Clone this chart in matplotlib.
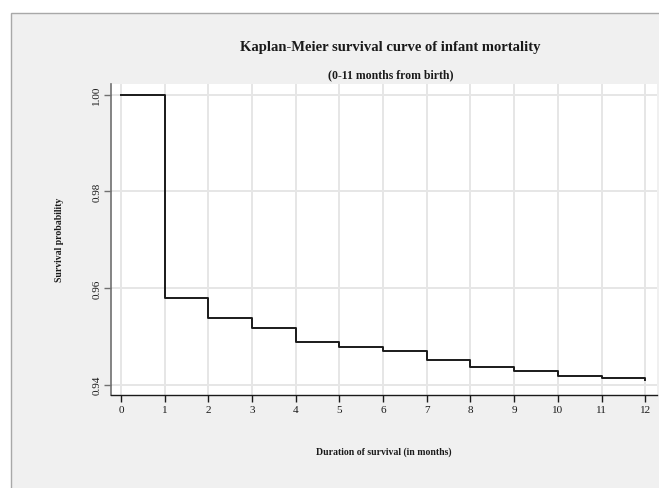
import matplotlib
matplotlib.use("Agg")
import matplotlib.pyplot as plt
from matplotlib.patches import Rectangle

# Kaplan-Meier estimate, month 0..12
months = [0, 1, 2, 3, 4, 5, 6, 7, 8, 9, 10, 11, 12]
survival = [1.000, 0.9580, 0.9538, 0.9517, 0.9488, 0.9477, 0.9469,
            0.9452, 0.9437, 0.9429, 0.9419, 0.9414, 0.9409]
x_ticks = list(range(0, 13))
y_ticks = [0.94, 0.96, 0.98, 1.00]

W, H = 659, 489
BG, GRID, INK = "#f0f0f0", "#e6e6e6", "#1a1a1a"
plt.rcParams["font.family"] = ["Liberation Serif", "DejaVu Serif"]

fig = plt.figure(figsize=(W / 100, H / 100), dpi=100)
fig.patch.set_facecolor("white")
fig.add_artist(Rectangle((11 / W, -0.01), 1.0, (H - 14) / H + 0.01,
                         transform=fig.transFigure, facecolor=BG,
                         edgecolor="#a8a8a8", linewidth=1.0, zorder=-5))

left, right, top, bottom = 111, 657, 85, 396
ax = fig.add_axes([left / W, (H - bottom) / H, (right - left) / W, (bottom - top) / H])
ax.set_facecolor("white")
ax.set_xlim(-0.229, 12.27)
ax.set_ylim(0.93787, 1.0022)

ax.set_xticks(x_ticks)
ax.set_yticks(y_ticks)
ax.set_yticklabels([f"{v:.2f}" for v in y_ticks], rotation=90, va="center")
ax.grid(True, color=GRID, linewidth=1.4)
ax.set_axisbelow(True)

for side in ("top", "right"):
    ax.spines[side].set_visible(False)
ax.spines["left"].set_color("#707070")
ax.spines["left"].set_linewidth(1.2)
ax.spines["bottom"].set_color(INK)
ax.spines["bottom"].set_linewidth(1.0)
ax.tick_params(axis="x", length=5, width=1.0, color=INK, labelsize=8, labelcolor=INK, pad=2)
ax.tick_params(axis="y", length=5, width=1.0, color="#707070", labelsize=8, labelcolor=INK, pad=2)

ax.step(months, survival, where="post", color=INK, linewidth=1.4)

cx = (left + right) / 2 / W
fig.text(cx + 0.01, 1 - 47 / H, "Kaplan-Meier survival curve of infant mortality",
         ha="center", va="center", fontsize=10.5, fontweight="bold", color=INK)
fig.text(cx + 0.01, 1 - 75 / H, "(0-11 months from birth)",
         ha="center", va="center", fontsize=8.5, fontweight="bold", color=INK)
fig.text(cx, 1 - 452 / H, "Duration of survival (in months)",
         ha="center", va="center", fontsize=7, fontweight="bold", color=INK)
fig.text(60 / W, 1 - 240 / H, "Survival probability", rotation=90,
         ha="center", va="center", fontsize=7, fontweight="bold", color=INK)

fig.savefig("out.png", dpi=100)
